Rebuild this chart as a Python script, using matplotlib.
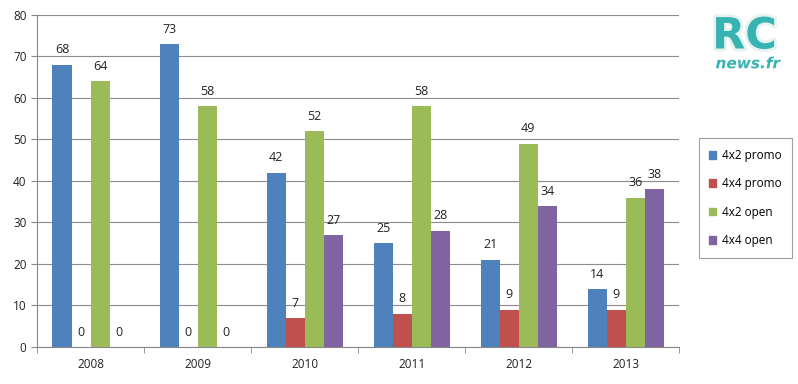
import numpy as np
import matplotlib
matplotlib.use('Agg')
import matplotlib.pyplot as plt
from matplotlib.patches import Patch
import matplotlib.patheffects as pe

# Chart data
years = ['2008', '2009', '2010', '2011', '2012', '2013']
promo_4x2 = [68, 73, 42, 25, 21, 14]
promo_4x4 = [0, 0, 7, 8, 9, 9]
open_4x2 = [64, 58, 52, 58, 49, 36]
open_4x4 = [0, 0, 27, 28, 34, 38]
series_names = ['4x2 promo', '4x4 promo', '4x2 open', '4x4 open']
colors = ['#4f81bd', '#c0504d', '#9bbb59', '#8064a2']

plt.rcParams['font.family'] = ['Open Sans', 'DejaVu Sans']

fig = plt.figure(figsize=(7.98, 3.84), dpi=100)
ax = fig.add_axes([0.0464, 0.0964, 0.805, 0.865])

x = np.arange(len(years))
width = 0.178
all_series = [promo_4x2, promo_4x4, open_4x2, open_4x4]
for i, (vals, col) in enumerate(zip(all_series, colors)):
    pos = x + (i - 1.5) * width
    ax.bar(pos, vals, width, color=col, zorder=3)
    for p, v in zip(pos, vals):
        ax.text(p, v + 2, str(v), ha='center', va='bottom', fontsize=9, color='#222222')

ax.set_xlim(-0.5, len(years) - 0.5)
ax.set_ylim(0, 80)
ax.set_yticks(range(0, 81, 10))
ax.set_xticks(x)
ax.set_xticklabels(years)
ax.set_xticks(np.arange(-0.5, len(years)), minor=True)
ax.tick_params(axis='x', which='major', length=0, labelsize=8.5, pad=8, colors='#222222')
ax.tick_params(axis='x', which='minor', length=4, color='#888888')
ax.tick_params(axis='y', length=4, color='#888888', labelsize=8.5, colors='#222222')
ax.grid(axis='y', color='#8c8c8c', linewidth=0.8, zorder=0)
for s in ['top', 'right']:
    ax.spines[s].set_visible(False)
ax.spines['left'].set_color('#888888')
ax.spines['bottom'].set_color('#888888')

handles = [Patch(color=c, label=n) for c, n in zip(colors, series_names)]
leg = fig.legend(handles=handles, loc='upper left', bbox_to_anchor=(0.868, 0.655),
                 fontsize=8.5, frameon=True, fancybox=False, edgecolor='#888888',
                 handlelength=0.6, handleheight=0.6, labelspacing=1.3, borderpad=0.9,
                 handletextpad=0.5)
leg.get_frame().set_linewidth(0.8)

# logo
fig.text(0.933, 0.905, 'RC', ha='center', va='center', fontsize=31, fontweight='bold',
         color='#37b4b1', family='DejaVu Sans',
         path_effects=[pe.withStroke(linewidth=4, foreground='#e6f2f2')])
fig.text(0.937, 0.834, 'news.fr', ha='center', va='center', fontsize=11, fontweight='bold',
         color='#37b4b1', style='italic', family='DejaVu Sans',
         path_effects=[pe.withStroke(linewidth=2.5, foreground='white')])

fig.savefig('out.png', dpi=100)
